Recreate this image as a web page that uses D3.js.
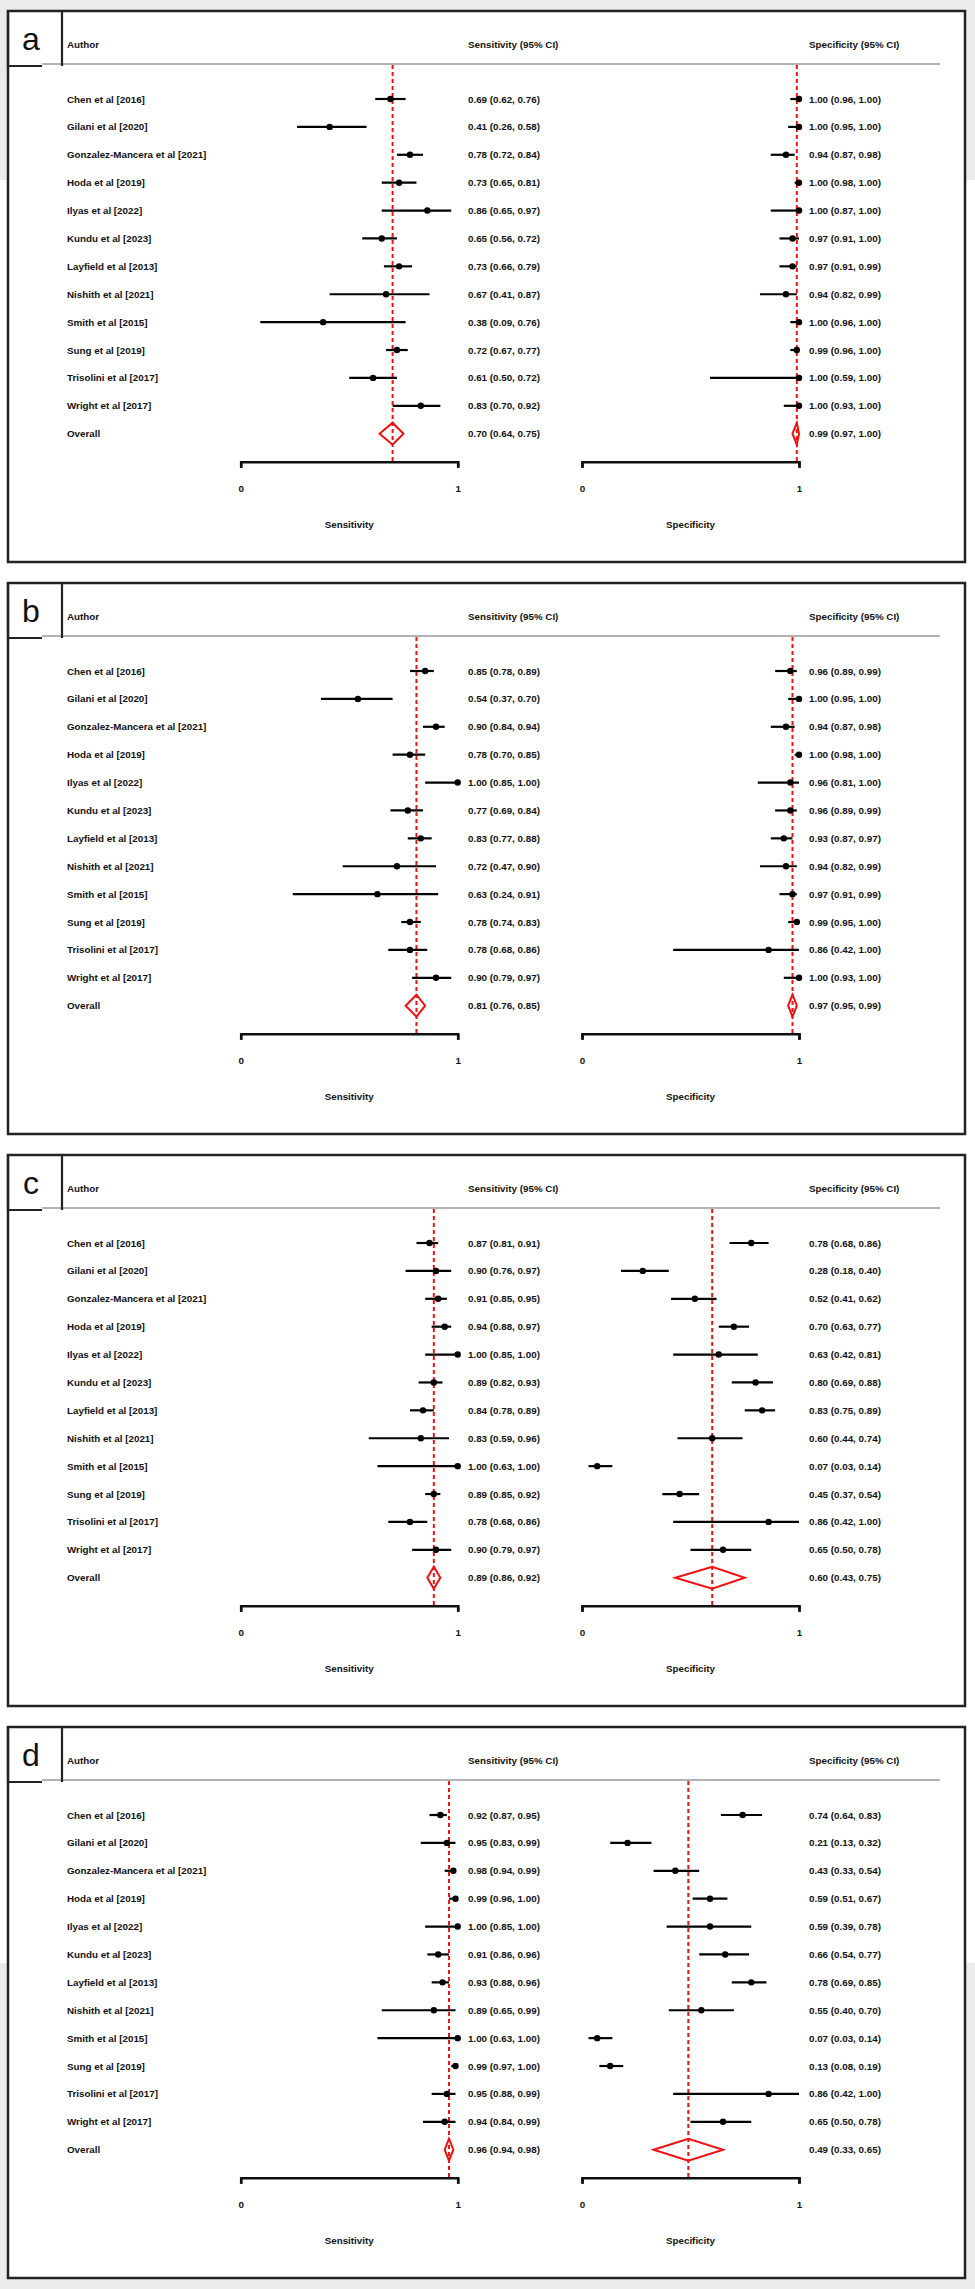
<!DOCTYPE html>
<html>
<head>
<meta charset="utf-8">
<script src="https://cdn.jsdelivr.net/npm/d3@7"></script>
<style>
  html, body { margin: 0; padding: 0; background: #fff; }
  svg { display: block; }
  text { font-family: "Liberation Sans", Arial, sans-serif; fill: #111; }
</style>
</head>
<body>
<svg id="chart" width="975" height="2289"></svg>
<script>
// ---------------- DATA ----------------
const panelLetters = ["a", "b", "c", "d"];
const authors = [
  "Chen et al [2016]", "Gilani et al [2020]", "Gonzalez-Mancera et al [2021]",
  "Hoda et al [2019]", "Ilyas et al [2022]", "Kundu et al [2023]",
  "Layfield et al [2013]", "Nishith et al [2021]", "Smith et al [2015]",
  "Sung et al [2019]", "Trisolini et al [2017]", "Wright et al [2017]", "Overall"
];
const headerLabels = ["Author", "Sensitivity (95% CI)", "Specificity (95% CI)"];
const axisTitles = ["Sensitivity", "Specificity"];
const tickValues = [0, 1];

// [estimate, lower, upper]; last row = Overall
const sensA = [[0.69,0.62,0.76],[0.41,0.26,0.58],[0.78,0.72,0.84],[0.73,0.65,0.81],[0.86,0.65,0.97],[0.65,0.56,0.72],[0.73,0.66,0.79],[0.67,0.41,0.87],[0.38,0.09,0.76],[0.72,0.67,0.77],[0.61,0.50,0.72],[0.83,0.70,0.92],[0.70,0.64,0.75]];
const specA = [[1.00,0.96,1.00],[1.00,0.95,1.00],[0.94,0.87,0.98],[1.00,0.98,1.00],[1.00,0.87,1.00],[0.97,0.91,1.00],[0.97,0.91,0.99],[0.94,0.82,0.99],[1.00,0.96,1.00],[0.99,0.96,1.00],[1.00,0.59,1.00],[1.00,0.93,1.00],[0.99,0.97,1.00]];
const sensB = [[0.85,0.78,0.89],[0.54,0.37,0.70],[0.90,0.84,0.94],[0.78,0.70,0.85],[1.00,0.85,1.00],[0.77,0.69,0.84],[0.83,0.77,0.88],[0.72,0.47,0.90],[0.63,0.24,0.91],[0.78,0.74,0.83],[0.78,0.68,0.86],[0.90,0.79,0.97],[0.81,0.76,0.85]];
const specB = [[0.96,0.89,0.99],[1.00,0.95,1.00],[0.94,0.87,0.98],[1.00,0.98,1.00],[0.96,0.81,1.00],[0.96,0.89,0.99],[0.93,0.87,0.97],[0.94,0.82,0.99],[0.97,0.91,0.99],[0.99,0.95,1.00],[0.86,0.42,1.00],[1.00,0.93,1.00],[0.97,0.95,0.99]];
const sensC = [[0.87,0.81,0.91],[0.90,0.76,0.97],[0.91,0.85,0.95],[0.94,0.88,0.97],[1.00,0.85,1.00],[0.89,0.82,0.93],[0.84,0.78,0.89],[0.83,0.59,0.96],[1.00,0.63,1.00],[0.89,0.85,0.92],[0.78,0.68,0.86],[0.90,0.79,0.97],[0.89,0.86,0.92]];
const specC = [[0.78,0.68,0.86],[0.28,0.18,0.40],[0.52,0.41,0.62],[0.70,0.63,0.77],[0.63,0.42,0.81],[0.80,0.69,0.88],[0.83,0.75,0.89],[0.60,0.44,0.74],[0.07,0.03,0.14],[0.45,0.37,0.54],[0.86,0.42,1.00],[0.65,0.50,0.78],[0.60,0.43,0.75]];
const sensD = [[0.92,0.87,0.95],[0.95,0.83,0.99],[0.98,0.94,0.99],[0.99,0.96,1.00],[1.00,0.85,1.00],[0.91,0.86,0.96],[0.93,0.88,0.96],[0.89,0.65,0.99],[1.00,0.63,1.00],[0.99,0.97,1.00],[0.95,0.88,0.99],[0.94,0.84,0.99],[0.96,0.94,0.98]];
const specD = [[0.74,0.64,0.83],[0.21,0.13,0.32],[0.43,0.33,0.54],[0.59,0.51,0.67],[0.59,0.39,0.78],[0.66,0.54,0.77],[0.78,0.69,0.85],[0.55,0.40,0.70],[0.07,0.03,0.14],[0.13,0.08,0.19],[0.86,0.42,1.00],[0.65,0.50,0.78],[0.49,0.33,0.65]];

const panelSens = [sensA, sensB, sensC, sensD];
const panelSpec = [specA, specB, specC, specD];

// ---------------- LAYOUT ----------------
const svg = d3.select("#chart");
const FS = 9.8;
const fmt = d3.format(".2f");
const label = d => `${fmt(d[0])} (${fmt(d[1])}, ${fmt(d[2])})`;

// background page bits
svg.append("rect").attr("x", 0).attr("y", 0).attr("width", 975).attr("height", 2289).attr("fill", "#fff");
svg.append("rect").attr("x", 0).attr("y", 0).attr("width", 975).attr("height", 180).attr("fill", "#ebebeb");
svg.append("rect").attr("x", 0).attr("y", 1963).attr("width", 975).attr("height", 326).attr("fill", "#ebebeb");

const xSens = d3.scaleLinear().domain([0, 1]).range([240.7, 457.7]);
const xSpec = d3.scaleLinear().domain([0, 1]).range([582, 799]);
const y = d3.scalePoint().domain(authors).range([88, 422.7]);

const axisY = 450.7;
const xTextSens = 468, xTextSpec = 809, xAuthor = 67;

panelLetters.forEach((letter, p) => {
  const top = 11 + p * 572;
  const g = svg.append("g").attr("transform", `translate(0,${top})`);

  // panel frame
  g.append("rect").attr("x", 8).attr("y", 0).attr("width", 957).attr("height", 551)
    .attr("fill", "#fff").attr("stroke", "#222").attr("stroke-width", 2.5);

  // header rule
  g.append("line").attr("x1", 42).attr("x2", 940).attr("y1", 53).attr("y2", 53)
    .attr("stroke", "#9a9a9a").attr("stroke-width", 1.5);

  // letter box
  g.append("path").attr("d", "M8,55 V0 H62 V55").attr("fill", "none")
    .attr("stroke", "#222").attr("stroke-width", 2.2);
  g.append("line").attr("x1", 8).attr("x2", 42).attr("y1", 55).attr("y2", 55)
    .attr("stroke", "#222").attr("stroke-width", 2.2);
  g.append("text").attr("x", 31).attr("y", 39).attr("text-anchor", "middle")
    .attr("font-size", 32).text(letter);

  // headers
  const hx = [xAuthor, xTextSens, xTextSpec];
  headerLabels.forEach((h, i) => {
    g.append("text").attr("x", hx[i]).attr("y", 33 + 3.5)
      .attr("font-size", FS).attr("font-weight", "bold").text(h);
  });

  // author labels
  g.selectAll("text.author").data(authors).join("text").attr("class", "author")
    .attr("x", xAuthor).attr("y", d => y(d) + 3.5)
    .attr("font-size", FS).attr("font-weight", "bold").text(d => d);

  const sides = [
    { data: panelSens[p], x: xSens, tx: xTextSens, title: axisTitles[0] },
    { data: panelSpec[p], x: xSpec, tx: xTextSpec, title: axisTitles[1] }
  ];

  sides.forEach(side => {
    const x = side.x;
    const studies = side.data.slice(0, -1);
    const overall = side.data[side.data.length - 1];
    const sg = g.append("g");

    // red dashed reference line at overall estimate
    sg.append("line").attr("x1", x(overall[0])).attr("x2", x(overall[0]))
      .attr("y1", 54).attr("y2", axisY)
      .attr("stroke", "#f21010").attr("stroke-width", 2).attr("stroke-dasharray", "4,3");

    // CI lines
    sg.selectAll("line.ci").data(studies).join("line").attr("class", "ci")
      .attr("x1", d => x(d[1])).attr("x2", d => x(d[2]))
      .attr("y1", (d, i) => y(authors[i])).attr("y2", (d, i) => y(authors[i]))
      .attr("stroke", "#000").attr("stroke-width", 2.2);

    // points
    sg.selectAll("circle.pt").data(studies).join("circle").attr("class", "pt")
      .attr("cx", d => x(d[0])).attr("cy", (d, i) => y(authors[i])).attr("r", 3.2)
      .attr("fill", "#000");

    // overall diamond
    const oy = y(authors[authors.length - 1]);
    sg.append("polygon")
      .attr("points", [[x(overall[1]), oy], [x(overall[0]), oy - 11], [x(overall[2]), oy], [x(overall[0]), oy + 11]].map(q => q.join(",")).join(" "))
      .attr("fill", "none").attr("stroke", "#f21010").attr("stroke-width", 2);

    // value labels
    sg.selectAll("text.val").data(side.data).join("text").attr("class", "val")
      .attr("x", side.tx).attr("y", (d, i) => y(authors[i]) + 3.5)
      .attr("font-size", FS).attr("font-weight", "bold").text(label);

    // axis
    const ax = sg.append("g").attr("transform", `translate(0,${axisY})`)
      .call(d3.axisBottom(x).tickValues(tickValues).tickSize(6).tickSizeOuter(6)
        .tickPadding(17.8).tickFormat(d3.format("d")));
    ax.select(".domain").attr("stroke", "#111").attr("stroke-width", 2.5).attr("fill", "none");
    ax.selectAll(".tick line").attr("stroke", "#111").attr("stroke-width", 2.5);
    ax.selectAll(".tick text").attr("font-size", FS).attr("font-weight", "bold")
      .attr("font-family", "'Liberation Sans', Arial, sans-serif").attr("fill", "#111");

    // axis title
    sg.append("text").attr("x", (x.range()[0] + x.range()[1]) / 2).attr("y", 513 + 3.5)
      .attr("text-anchor", "middle").attr("font-size", FS).attr("font-weight", "bold")
      .text(side.title);
  });
});
</script>
</body>
</html>
